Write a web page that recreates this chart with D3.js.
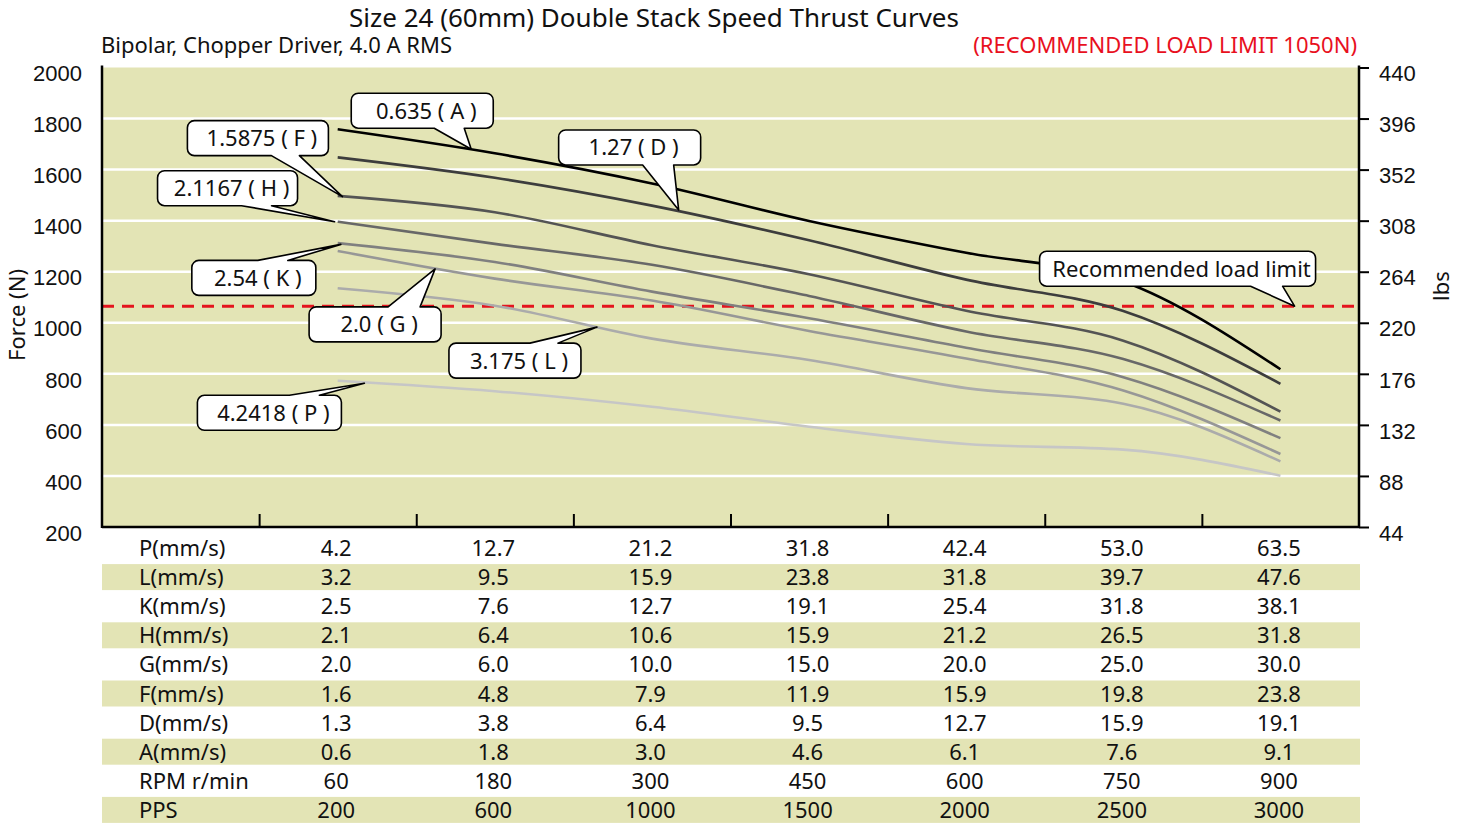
<!DOCTYPE html>
<html>
<head>
<meta charset="utf-8">
<script src="https://cdn.jsdelivr.net/npm/d3@7"></script>
<style>
  html, body { margin: 0; padding: 0; background: #fff; }
  svg { display: block; font-family: "Noto Sans", "Open Sans", sans-serif; }
</style>
</head>
<body>
<div id="chart"></div>
<script>
// ---- data ----
var seriesKeys = ["A", "D", "F", "H", "K", "G", "L", "P"];
var forceA = [1758, 1664, 1546, 1399, 1274, 1162, 818];
var forceD = [1648, 1568, 1459, 1323, 1169, 1046, 761];
var forceF = [1497, 1433, 1304, 1190, 1047, 930, 652];
var forceH = [1396, 1309, 1227, 1105, 966, 858, 617];
var forceK = [1312, 1238, 1122, 1018, 902, 787, 548];
var forceG = [1281, 1173, 1087, 968, 860, 735, 486];
var forceL = [1135, 1067, 938, 854, 744, 683, 457];
var forceP = [773, 732, 671, 593, 525, 503, 401];
var loadLimit = 1065;

var leftTicks = [200, 400, 600, 800, 1000, 1200, 1400, 1600, 1800, 2000];
var rightTicks = [44, 88, 132, 176, 220, 264, 308, 352, 396, 440];

var rowLabels = ["P(mm/s)", "L(mm/s)", "K(mm/s)", "H(mm/s)", "G(mm/s)", "F(mm/s)", "D(mm/s)", "A(mm/s)", "RPM r/min", "PPS"];
var rowP = ["4.2", "12.7", "21.2", "31.8", "42.4", "53.0", "63.5"];
var rowL = ["3.2", "9.5", "15.9", "23.8", "31.8", "39.7", "47.6"];
var rowK = ["2.5", "7.6", "12.7", "19.1", "25.4", "31.8", "38.1"];
var rowH = ["2.1", "6.4", "10.6", "15.9", "21.2", "26.5", "31.8"];
var rowG = ["2.0", "6.0", "10.0", "15.0", "20.0", "25.0", "30.0"];
var rowF = ["1.6", "4.8", "7.9", "11.9", "15.9", "19.8", "23.8"];
var rowD = ["1.3", "3.8", "6.4", "9.5", "12.7", "15.9", "19.1"];
var rowA = ["0.6", "1.8", "3.0", "4.6", "6.1", "7.6", "9.1"];
var rowRPM = ["60", "180", "300", "450", "600", "750", "900"];
var rowPPS = ["200", "600", "1000", "1500", "2000", "2500", "3000"];

// callouts: tip in data coords [column index, force], box offset from tip in px
var callouts = [
  { text: "0.635 ( A )",  tip: [0.85, 1680], dx: -120, dy: -56, w: 142, side: "bottom", b: [83, 113] },
  { text: "1.5875 ( F )", tip: [0.03, 1494], dx: -155, dy: -76, w: 141, side: "bottom", b: [84, 112] },
  { text: "2.1167 ( H )", tip: [-0.02, 1396], dx: -177, dy: -51, w: 140, side: "bottom", b: [84, 114] },
  { text: "2.54 ( K )",   tip: [0.02, 1307], dx: -149, dy: 16, w: 124, side: "top", b: [66, 96] },
  { text: "2.0 ( G )",    tip: [0.62, 1211], dx: -126, dy: 38, w: 132, side: "top", b: [79, 111] },
  { text: "3.175 ( L )",  tip: [1.65, 983],  dx: -148, dy: 16, w: 132, side: "top", b: [81, 109] },
  { text: "4.2418 ( P )", tip: [0.17, 763],  dx: -167, dy: 12, w: 144, side: "top", b: [92, 122] },
  { text: "1.27 ( D )",   tip: [2.17, 1442], dx: -120, dy: -80, w: 142, side: "bottom", b: [84, 115] },
  { text: "Recommended load limit", tip: [6.09, 1065], dx: -255, dy: -55, w: 276, side: "bottom", b: [211, 243] }
];

var series = [forceA, forceD, forceF, forceH, forceK, forceG, forceL, forceP];
var lineColors = ["#000000", "#3d3d3d", "#545454", "#686868", "#808080", "#979797", "#ababab", "#c6c6c6"];
var rows = [rowP, rowL, rowK, rowH, rowG, rowF, rowD, rowA, rowRPM, rowPPS];

var W = 1464, H = 824;
var L0 = 102, R0 = 1359, T0 = 67.5, B0 = 527;
var BG = "#e3e4b5";
var FS = 22;

var svg = d3.select("#chart").append("svg").attr("width", W).attr("height", H);

var x = d3.scaleLinear().domain([-1.5, 6.5]).range([L0, R0]);
var y = d3.scaleLinear().domain([200, 2000]).range([B0, T0]);
var yR = d3.scaleLinear().domain([44, 440]).range([B0, T0]);

// plot background
svg.append("rect").attr("x", L0).attr("y", T0).attr("width", R0 - L0).attr("height", B0 - T0).attr("fill", BG);

// gridlines
svg.append("g").selectAll("line")
  .data(leftTicks.filter(function (d) { return d > 200 && d < 2000; }))
  .enter().append("line")
  .attr("x1", L0).attr("x2", R0)
  .attr("y1", function (d) { return y(d); }).attr("y2", function (d) { return y(d); })
  .attr("stroke", "#fff").attr("stroke-width", 2.5);

// load limit
svg.append("line")
  .attr("x1", L0).attr("x2", R0).attr("y1", y(loadLimit)).attr("y2", y(loadLimit))
  .attr("stroke", "#e4141e").attr("stroke-width", 3).attr("stroke-dasharray", "12,8");

// curves
var line = d3.line()
  .x(function (d, i) { return x(i); })
  .y(function (d) { return y(d); })
  .curve(d3.curveMonotoneX);

svg.append("g").selectAll("path")
  .data(series.slice().reverse())
  .enter().append("path")
  .attr("d", line)
  .attr("fill", "none")
  .attr("stroke", function (d, i) { return lineColors[series.length - 1 - i]; })
  .attr("stroke-width", 2.6);

// axes
var bottom = d3.axisBottom(x).tickValues([-0.5, 0.5, 1.5, 2.5, 3.5, 4.5, 5.5]).tickSize(-13).tickFormat("");
svg.append("g").attr("transform", "translate(0," + B0 + ")").call(bottom)
  .call(function (g) {
    g.select(".domain").remove();
    g.selectAll(".tick line").attr("stroke", "#000").attr("stroke-width", 2);
  });

var left = d3.axisLeft(y).tickValues(leftTicks).tickFormat(d3.format("d")).tickSize(0).tickPadding(20);
svg.append("g").attr("transform", "translate(" + L0 + ",0)").call(left)
  .call(function (g) {
    g.select(".domain").remove();
    g.selectAll("text").attr("font-size", FS).attr("font-family", null).attr("dy", "0.6em").attr("fill", "#111");
  });

var right = d3.axisRight(yR).tickValues(rightTicks).tickSize(10).tickPadding(10);
svg.append("g").attr("transform", "translate(" + R0 + ",0)").call(right)
  .call(function (g) {
    g.select(".domain").remove();
    g.selectAll(".tick line").attr("stroke", "#000").attr("stroke-width", 2);
    g.selectAll("text").attr("font-size", FS).attr("font-family", null).attr("dy", "0.6em").attr("fill", "#111");
  });

// axis frame lines
svg.append("line").attr("x1", L0).attr("x2", L0).attr("y1", T0 - 2).attr("y2", B0 + 1).attr("stroke", "#000").attr("stroke-width", 2.5);
svg.append("line").attr("x1", R0).attr("x2", R0).attr("y1", T0 - 2).attr("y2", B0 + 1).attr("stroke", "#000").attr("stroke-width", 2.5);
svg.append("line").attr("x1", L0).attr("x2", R0).attr("y1", B0).attr("y2", B0).attr("stroke", "#000").attr("stroke-width", 2.5);

// axis titles
svg.append("text").attr("transform", "translate(25,315) rotate(-90)")
  .attr("text-anchor", "middle").attr("font-size", FS).attr("fill", "#111").text("Force (N)");
svg.append("text").attr("transform", "translate(1449,286) rotate(-90)")
  .attr("text-anchor", "middle").attr("font-size", FS).attr("fill", "#111").text("lbs");

// titles
svg.append("text").attr("x", 654).attr("y", 27).attr("text-anchor", "middle")
  .attr("font-size", 26).attr("fill", "#111").text("Size 24 (60mm) Double Stack Speed Thrust Curves");
svg.append("text").attr("x", 101).attr("y", 53)
  .attr("font-size", FS).attr("fill", "#111").text("Bipolar, Chopper Driver, 4.0 A RMS");
svg.append("text").attr("x", 1357).attr("y", 53).attr("text-anchor", "end")
  .attr("font-size", FS).attr("fill", "#e8101e").text("(RECOMMENDED LOAD LIMIT 1050N)");

// callouts
function calloutPath(x0, y0, w, h, r, side, b1, b2, tx, ty) {
  var p = d3.path();
  p.moveTo(x0 + r, y0);
  if (side === "top") { p.lineTo(b1, y0); p.lineTo(tx, ty); p.lineTo(b2, y0); }
  p.lineTo(x0 + w - r, y0);
  p.arcTo(x0 + w, y0, x0 + w, y0 + r, r);
  p.lineTo(x0 + w, y0 + h - r);
  p.arcTo(x0 + w, y0 + h, x0 + w - r, y0 + h, r);
  if (side === "bottom") { p.lineTo(b2, y0 + h); p.lineTo(tx, ty); p.lineTo(b1, y0 + h); }
  p.lineTo(x0 + r, y0 + h);
  p.arcTo(x0, y0 + h, x0, y0 + h - r, r);
  p.lineTo(x0, y0 + r);
  p.arcTo(x0, y0, x0 + r, y0, r);
  p.closePath();
  return p.toString();
}

var cg = svg.append("g").selectAll("g").data(callouts).enter().append("g");
cg.append("path")
  .attr("d", function (c) {
    var tx = x(c.tip[0]), ty = y(c.tip[1]);
    var bx = tx + c.dx, by = ty + c.dy;
    return calloutPath(bx, by, c.w, 35, 7, c.side, bx + c.b[0], bx + c.b[1], tx, ty);
  })
  .attr("fill", "#fff").attr("stroke", "#000").attr("stroke-width", 1.6).attr("stroke-linejoin", "round");
cg.append("text")
  .attr("x", function (c) { return x(c.tip[0]) + c.dx + c.w / 2 + 4; })
  .attr("y", function (c) { return y(c.tip[1]) + c.dy + 25.5; })
  .attr("text-anchor", "middle").attr("font-size", FS).attr("fill", "#111")
  .text(function (c) { return c.text; });

// data table under the chart
var rowBase0 = 556, rowStep = 29.1;
var tg = svg.append("g");
tg.selectAll("rect").data(rows).enter().append("rect")
  .filter(function (d, i) { return i % 2 === 1; })
  .attr("x", L0).attr("width", R0 - L0 + 1)
  .attr("y", function (d, i) { return rowBase0 + (2 * i + 1) * rowStep - 8 - 13; })
  .attr("height", 26).attr("fill", BG);

tg.selectAll("text.lbl").data(rowLabels).enter().append("text")
  .attr("class", "lbl").attr("x", 139)
  .attr("y", function (d, i) { return rowBase0 + i * rowStep; })
  .attr("font-size", FS).attr("fill", "#111").text(function (d) { return d; });

rows.forEach(function (r, ri) {
  tg.append("g").selectAll("text").data(r).enter().append("text")
    .attr("x", function (d, i) { return x(i) - 1.5; })
    .attr("y", rowBase0 + ri * rowStep)
    .attr("text-anchor", "middle").attr("font-size", FS).attr("fill", "#111")
    .text(function (d) { return d; });
});
</script>
</body>
</html>
